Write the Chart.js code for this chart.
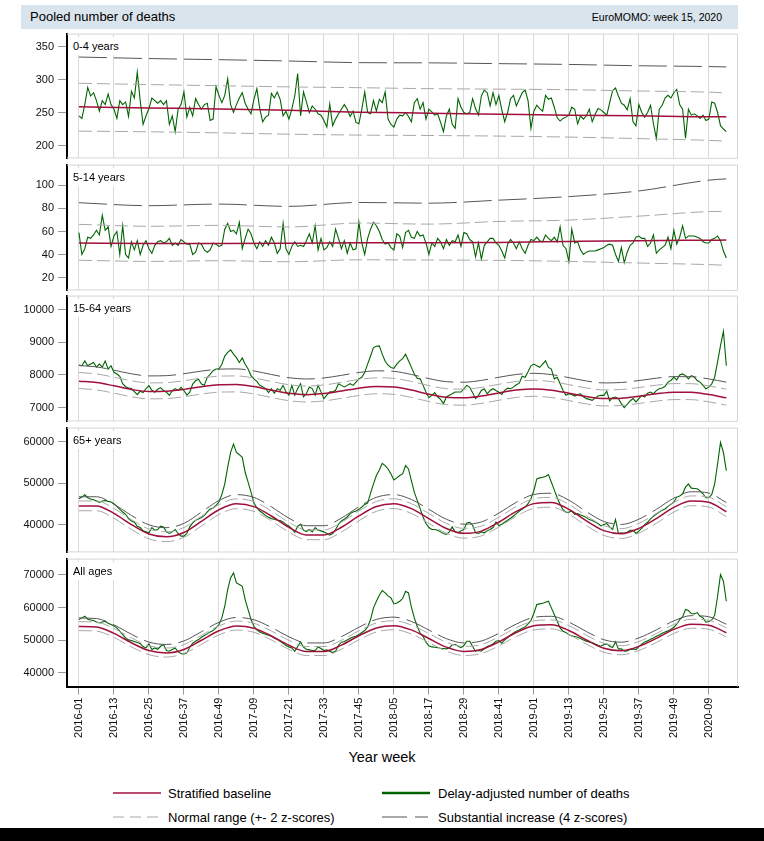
<!DOCTYPE html>
<html>
<head>
<meta charset="utf-8">
<script src="https://cdn.jsdelivr.net/npm/chart.js@4.4.1/dist/chart.umd.min.js"></script>
<style>
  body { margin: 0; background: #fff; width: 764px; height: 841px; position: relative; overflow: hidden;
         font-family: "Liberation Sans", Arial, sans-serif; color: #000; }
  .abs { position: absolute; }
  #titlebar { left: 21px; top: 5px; width: 717px; height: 24px; background: #d9e4ec; }
  #title { left: 30px; top: 9px; font-size: 13px; line-height: 16px; }
  #source { right: 42px; top: 11px; font-size: 10.5px; line-height: 13px; }
  .plabel { font-size: 11px; line-height: 13px; left: 70px; padding: 3px 3px 2px 3px; background: #fff; z-index: 5; }
  #xtitle { left: 0; width: 764px; text-align: center; top: 749px; font-size: 14.5px; }
  .leg { font-size: 13px; line-height: 15px; }
  #blackbar { left: 0; top: 828px; width: 764px; height: 13px; background: #000; }
  canvas { position: absolute; left: 0; }
</style>
</head>
<body>
<div id="titlebar" class="abs"></div>
<div id="title" class="abs">Pooled number of deaths</div>
<div id="source" class="abs">EuroMOMO: week 15, 2020</div>

<div id="xtitle" class="abs">Year week</div>

<svg class="abs" style="left:113px;top:788px" width="48" height="10"><line x1="0" y1="5" x2="48" y2="5" stroke="#a0103c" stroke-width="1.5"/></svg>
<div class="abs leg" style="left:168px;top:786px">Stratified baseline</div>
<svg class="abs" style="left:382px;top:788px" width="48" height="10"><line x1="0" y1="5" x2="48" y2="5" stroke="#006400" stroke-width="2.5"/></svg>
<div class="abs leg" style="left:438px;top:786px">Delay-adjusted number of deaths</div>
<svg class="abs" style="left:113px;top:812px" width="48" height="10"><line x1="0" y1="5" x2="48" y2="5" stroke="#a8a8a8" stroke-width="1" stroke-dasharray="11 6"/></svg>
<div class="abs leg" style="left:168px;top:810px">Normal range (+- 2 z-scores)</div>
<svg class="abs" style="left:382px;top:812px" width="48" height="10"><line x1="0" y1="5" x2="48" y2="5" stroke="#555" stroke-width="1" stroke-dasharray="25 8 13 2"/></svg>
<div class="abs leg" style="left:438px;top:810px">Substantial increase (4 z-scores)</div>

<div id="blackbar" class="abs"></div>

<script>
// x axis: ISO week index from 2016-01 (0) to 2020-15 (222)
const tickWeeks = [0, 12, 24, 36, 48, 60, 72, 84, 96, 108, 120, 132, 144, 156, 168, 180, 192, 204, 216];
const tickLabels = ['2016-01','2016-13','2016-25','2016-37','2016-49','2017-09','2017-21','2017-33','2017-45',
  '2018-05','2018-17','2018-29','2018-41','2019-01','2019-13','2019-25','2019-37','2019-49','2020-09'];

// weeks at which the smooth reference lines are read
const slowWeeks = [0, 24, 48, 72, 96, 120, 144, 168, 192, 216, 222];
const knotWeeks = [0,6,12,18,24,30,36,42,48,54,60,66,72,78,84,90,96,102,108,114,120,126,132,138,144,150,156,162,168,174,180,186,192,198,204,210,216,222];

// ---- 0-4 years
const deaths04 = [
  245,241,262,288,275,280,268,252,268,262, 278,262,255,241,268,262,266,244,282,272,
  311,268,232,245,256,272,268,264,268,262, 268,232,245,221,255,262,281,243,258,245,
  271,262,255,262,264,238,240,289,276,265, 276,301,262,250,262,272,280,264,255,248,
  270,286,256,236,243,246,279,272,281,270, 245,252,240,255,275,309,245,281,266,250,
  260,255,248,246,238,228,263,230,240,248, 255,262,255,244,252,235,233,255,281,250,
  248,268,252,270, 265,281,240,232,228,240,
  246,245,250,244,236,265,271,255,265,240, 255,251,246,248,235,221,245,255,232,226,
  271,258,250,248,250,271,256,246,275,284, 280,260,280,262,276,254,236,250,271,276,
  260,270,280,284,268,226,252,261,256,252, 276,270,272,258,242,237,241,243,246,258,
  255,233,245,240,245,255,236,247,256,254, 250,246,265,283,287,275,264,261,254,271,
  236,230,262,250,243,250,261,233,211,255, 261,272,276,272,280,285,262,255,211,255,
  246,248,245,241,246,238,240,266,264,250, 230,225,221];
const base04    = [258.6, 257, 255.5, 253.5, 250.5, 249, 247.5, 246, 245, 243.5, 243.5];
const upper2z04 = [294.3, 292.3, 290.6, 288.8, 287.6, 286.1, 285.4, 284.5, 282.6, 280.8, 279.7];
const lower2z04 = [221.8, 220.8, 219.2, 217.2, 215.8, 215.2, 214.3, 212.8, 210.5, 207.8, 206.7];
const upper4z04 = [334, 331.7, 330, 328, 325.5, 325.2, 324, 322.8, 320.8, 319.6, 319];
const yTicks04 = [200, 250, 300, 350];

// ---- 5-14 years
const deaths514 = [
  59,40,45,55,54,57,61,57,74,61, 64,47,56,60,40,65,40,37,51,44,
  52,40,48,52,45,41,48,51,52,50, 51,54,48,50,48,53,51,49,49,40,
  42,50,49,44,42,44,50,49,47,48, 62,67,60,61,58,68,45,54,62,58,
  50,45,51,47,52,48,55,50,41,45, 67,45,40,47,51,47,48,47,52,58,
  50,65,44,54,44,46,51,47,62,54, 45,52,41,50,44,45,68,50,40,54,
  62,68,65,60, 53,49,50,46,44,58,
  56,46,59,61,55,54,60,56,57,50, 40,50,47,54,51,45,53,48,52,51,
  57,47,59,58,53,51,38,50,36,48, 51,54,54,50,48,43,37,49,53,50,
  45,51,45,41,48,53,52,55,52,51, 57,54,52,55,51,64,48,45,34,62,
  50,51,44,40,42,43,43,43,44,45, 46,48,49,48,40,34,46,33,42,48,
  50,55,56,54,54,47,50,57,41,44, 46,48,55,45,61,49,55,65,54,56,
  56,56,55,54,51,50,50,53,54,56, 52,43,37];
const base514    = [50, 49.5, 49.5, 49.7, 50.3, 50.3, 50.5, 51.3, 52, 52.4, 52.5];
const upper2z514 = [66.2, 64.5, 65.3, 63.9, 67.3, 66.4, 68.7, 69.9, 73.3, 77.3, 77.5];
const lower2z514 = [35, 34, 34.6, 33.7, 35.4, 35.2, 34.9, 34, 32.6, 31.2, 30.6];
const upper4z514 = [85, 82.4, 83.8, 81.8, 85.2, 84.6, 87.2, 90.3, 95.2, 104.6, 105.7];
const yTicks514 = [20, 40, 60, 80, 100];

// ---- 15-64 years
const deaths1564 = [
  8303,8283,8430,8280,8333,8384,8240,8333,8240,8430, 8180,8283,8080,8030,7960,7730,7640,7600,7580,7490,
  7394,7500,7460,7580,7670,7530,7470,7560,7610,7520, 7470,7374,7520,7580,7520,7620,7520,7380,7470,7720,
  7820,7870,7720,7680,7930,8020,8130,8180,8180,8330, 8580,8690,8770,8640,8530,8380,8520,8330,8180,7980,
  7880,7800,7680,7640,7580,7460,7580,7440,7580,7530, 7680,7480,7380,7680,7380,7580,7730,7330,7430,7630,
  7580,7380,7680,7480,7273,7380,7480,7480,7530,7730, 7680,7630,7680,7730,7680,7780,7880,7930,8080,8330,
  8580,8840,8880,8890, 8640,8420,8300,8230,8200,8330,
  8434,8500,8636,8434,8232,8030,7900,7880,7680,7475, 7300,7374,7455,7330,7250,7121,7323,7374,7420,7475,
  7475,7475,7576,7680,7620,7450,7273,7374,7525,7576, 7420,7525,7576,7520,7470,7400,7525,7596,7576,7626,
  7700,7747,7960,7930,8100,8280,8333,8283,8233,8333, 8434,8232,8180,7880,7930,7727,7525,7374,7420,7400,
  7353,7400,7420,7330,7273,7250,7220,7290,7353,7374, 7374,7500,7200,7300,7323,7273,7121,7000,7100,7200,
  7273,7171,7273,7374,7323,7440,7475,7424,7520,7576, 7600,7650,7780,7830,7930,7850,8000,8030,7980,7880,
  7980,7940,7830,7780,7677,7576,7626,7727,7930,8400, 8900,9340,8280];
const base1564 = [7808,7767,7666,7555,7490,7498,7557,7638,7697,7705,7642,7533,7435,7395,7427,7507,7595,7646,7630,
  7535,7408,7313,7297,7353,7448,7535,7570,7532,7438,7335,7275,7288,7348,7420,7469,7466,7398,7298];
const upper2z1564 = [8073,8032,7931,7820,7755,7763,7822,7903,7962,7970,7907,7798,7700,7660,7692,7772,7860,7911,7895,
  7800,7673,7578,7562,7618,7713,7800,7835,7797,7703,7600,7540,7553,7613,7685,7734,7731,7663,7563];
const lower2z1564 = [7583,7542,7441,7330,7265,7273,7332,7413,7472,7480,7417,7308,7210,7170,7202,7282,7370,7421,7405,
  7310,7183,7088,7072,7128,7223,7310,7345,7307,7213,7110,7050,7063,7123,7195,7244,7241,7173,7073];
const upper4z1564 = [8288,8247,8146,8035,7970,7978,8037,8118,8177,8185,8122,8013,7915,7875,7907,7987,8075,8126,8110,
  8015,7888,7793,7777,7833,7928,8015,8050,8012,7918,7815,7755,7768,7828,7900,7949,7946,7878,7778];
const yTicks1564 = [7000, 8000, 9000, 10000];

// ---- 65+ years
const deaths65 = [
  46270,46670,47220,46510,46190,46030,45710,45400,45710,45870, 45640,45480,45080,44440,43730,43100,42540,41510,40950,40630,
  39680,39370,38570,38330,38100,39370,38730,38890,39680,39520, 38330,37940,38330,38890,37940,37300,37300,37940,39520,40480,
  41110,41430,41750,42300,43100,43810,44050,44680,45480,47300, 49840,53810,57380,59370,57380,56830,56190,52620,50240,47860,
  45240,44130,43330,42860,42220,41830,41510,41350,41110,41030, 40710,40080,39760,39130,38170,39680,40160,38730,38410,38890,
  38330,39370,38730,38570,38330,37940,37540,37940,38890,40160, 40950,41350,41900,42700,43100,43330,43730,44290,44920,45240,
  47620,49840,51830,53180, 54760,54210,53410,52220,50790,51270,
  51830,52220,54210,53410,50640,47860,45870,43890,41900,40320, 39370,38890,38890,38730,38330,37940,37700,38330,39520,38330,
  38100,38570,38890,40480,40630,39920,38100,37940,38330,38100, 38570,38890,39370,40710,39840,40160,40630,41110,41590,42140,
  42700,43330,43810,44290,45080,46270,48250,51030,51270,51430, 51590,52060,50240,48410,46510,44920,43650,43020,43020,43330,
  42540,42700,42380,42140,41750,41270,41030,40710,40320,39760, 40080,40320,39520,38890,41300,37940,38100,37940,38250,38730,
  38730,37940,38490,39210,40080,40630,41430,42060,42620,43100, 43490,43810,44440,44920,45480,46670,46900,47460,49050,49840,
  48810,48730,48650,48170,47460,46510,46510,47300,49840,54600, 59760,57380,53020];
const base65 = [44540,44550,42750,40060,37820,37140,38170,40870,43640,45050,44390,42130,39420,37600,37600,39430,42150,44410,
  45070,43890,41520,39150,37970,38510,40640,43230,45100,45390,43720,40980,38620,37900,39170,41530,44210,45750,45440,43150];
const upper2z65 = [45740,45750,43950,41260,39020,38340,39370,42070,44840,46250,45590,43330,40620,38800,38800,40630,43350,45610,
  46270,45090,42720,40350,39170,39710,41840,44430,46300,46590,44920,42180,39820,39100,40370,42730,45410,46950,46640,44350];
const lower2z65 = [43390,43400,41600,38910,36670,35990,37020,39720,42490,43900,43240,40980,38270,36450,36450,38280,41000,43260,
  43920,42740,40370,38000,36820,37360,39490,42080,43950,44240,42570,39830,37470,36750,38020,40380,43060,44600,44290,42000];
const upper4z65 = [46740,46750,44950,42260,40020,39340,40370,43070,45840,47250,46590,44330,41620,39800,39800,41630,44350,46610,
  47270,46090,43720,41350,40170,40710,42840,45430,47300,47590,45920,43180,40820,40100,41370,43730,46410,47950,47640,45350];
const yTicks65 = [40000, 50000, 60000];

// ---- All ages
const deathsAll = [
  56330,56840,57350,56430,56220,56020,55610,55310,55610,55820, 55200,54800,54390,53780,52760,51730,50710,50100,49900,49590,
  49290,48980,48060,47650,48880,47140,47650,47240,48160,48670, 46840,46630,47140,47650,46430,45920,45820,46120,47860,49080,
  49690,50200,50920,51430,51940,52550,52960,53780,54800,56840, 60410,65510,69080,70610,67550,67040,66530,62450,59390,56330,
  54290,53160,52550,52140,51840,51530,51220,50710,50200,49690, 49080,48370,47960,47650,46630,48060,49490,47860,47240,47040,
  46840,46840,47960,47450,46840,47040,46630,46220,46630,48470, 49390,49590,50100,50610,51020,51220,51730,52350,52960,54080,
  56330,59900,61940,63780, 65200,64490,63570,62960,61120,61430,
  61940,62760,65000,64490,60100,56840,54290,52140,51220,49390, 48270,47960,47860,47750,47550,47450,47350,47650,48570,48780,
  48160,47750,48370,49690,49690,48060,46630,46840,46630,47450, 48060,48370,48880,49690,49900,49080,50100,50820,51530,52240,
  52760,53160,53670,54080,55000,56020,58270,60920,61120,61330, 61630,61940,59900,57860,55820,53780,52760,52350,51730,51330,
  51120,50920,50510,50100,49690,49490,49290,48880,48470,48160, 48670,48880,48160,47750,49490,47350,47350,46630,46730,47240,
  47350,47140,48060,48780,49490,49800,50310,50710,51220,51630, 52140,52550,52860,53370,53980,54900,56330,57140,59390,59080,
  58160,58060,58470,57350,56840,55510,55710,56220,57650,63470, 70100,68060,61940];
const baseAll = [54200,54030,52100,49220,46830,46100,47180,50000,52890,54370,53680,51310,48470,46570,46570,48500,51380,53770,
  54470,53160,50530,47890,46580,47170,49510,52360,54410,54730,52970,50060,47560,46800,48110,50560,53330,54930,54590,52300];
const upper2zAll = [55700,55530,53600,50720,48330,47600,48680,51500,54390,55870,55180,52810,49970,48070,48070,50000,52880,55270,
  55970,54660,52030,49390,48080,48670,51010,53860,55910,56230,54470,51560,49060,48300,49610,52060,54830,56430,56090,53800];
const lower2zAll = [52950,52780,50850,47970,45580,44850,45930,48750,51640,53120,52430,50060,47220,45320,45320,47250,50130,52520,
  53220,51910,49280,46640,45330,45920,48260,51110,53160,53480,51720,48810,46310,45550,46860,49310,52080,53680,53340,51050];
const upper4zAll = [56800,56630,54700,51820,49430,48700,49780,52600,55490,56970,56280,53910,51070,49170,49170,51100,53980,56370,
  57070,55760,53130,50490,49180,49770,52110,54960,57010,57330,55570,52660,50160,49400,50710,53160,55930,57530,57190,54900];
const yTicksAll = [40000, 50000, 60000, 70000];

const weekIndex = deaths04.map((_, i) => i);

const panels = [
  { label: '0-4 years',   top: 34,  bottom: 160, yMin: 180.5, yMax: 369.5, yTicks: yTicks04,   knots: slowWeeks, deaths: deaths04,   base: base04,   up2: upper2z04,   lo2: lower2z04,   up4: upper4z04 },
  { label: '5-14 years',  top: 165, bottom: 292, yMin: 8.8,   yMax: 118.1, yTicks: yTicks514,  knots: slowWeeks, deaths: deaths514,  base: base514,  up2: upper2z514,  lo2: lower2z514,  up4: upper4z514 },
  { label: '15-64 years', top: 296, bottom: 423, yMin: 6574,  yMax: 10435, yTicks: yTicks1564, knots: knotWeeks, deaths: deaths1564, base: base1564, up2: upper2z1564, lo2: lower2z1564, up4: upper4z1564 },
  { label: '65+ years',   top: 428, bottom: 554, yMin: 33405, yMax: 63333, yTicks: yTicks65,   knots: knotWeeks, deaths: deaths65,   base: base65,   up2: upper2z65,   lo2: lower2z65,   up4: upper4z65 },
  { label: 'All ages',    top: 559, bottom: 687, yMin: 35807, yMax: 74990, yTicks: yTicksAll,  knots: knotWeeks, deaths: deathsAll,  base: baseAll,  up2: upper2zAll,  lo2: lower2zAll,  up4: upper4zAll, last: true }
];

const AREA_LEFT = 67, AREA_RIGHT = 738;

Chart.defaults.font.family = '"Liberation Sans", Arial, sans-serif';
Chart.defaults.color = '#111';

const framePlugin = {
  id: 'frame',
  beforeDatasetsDraw(chart, args, opts) {
    const {ctx, chartArea: a} = chart;
    ctx.save();
    ctx.strokeStyle = '#d6d6d6';
    ctx.lineWidth = 1;
    ctx.beginPath();
    ctx.moveTo(a.left, a.top + 0.5);
    ctx.lineTo(a.right - 0.5, a.top + 0.5);
    ctx.lineTo(a.right - 0.5, a.bottom);
    if (!opts.last) ctx.lineTo(a.left, a.bottom - 0.5);
    ctx.stroke();
    ctx.restore();
  }
};

const pts = (xs, ys) => ys.map((y, i) => ({x: xs[i], y: y}));

panels.forEach(p => {
  const padTop = 10;
  const axisH = p.last ? 58 : 0;
  const areaH = p.bottom - p.top;
  let yWidth = AREA_LEFT;
  const pad = { top: padTop, bottom: p.last ? 0 : 10, left: 0, right: 764 - AREA_RIGHT };

  const canvas = document.createElement('canvas');
  canvas.width = 764;
  canvas.height = areaH + pad.top + pad.bottom + axisH;
  canvas.style.top = (p.top - padTop) + 'px';
  document.body.appendChild(canvas);

  const refLine = (vals, color, dash, width) => ({
    data: pts(p.knots, vals),
    borderColor: color,
    borderWidth: width,
    borderDash: dash,
    pointRadius: 0,
    fill: false,
    cubicInterpolationMode: 'monotone'
  });

  const chart = new Chart(canvas, {
    type: 'line',
    data: {
      datasets: [
        refLine(p.up4, '#555555', [28, 7], 1),
        refLine(p.up2, '#a8a8a8', [13, 5], 1),
        refLine(p.lo2, '#a8a8a8', [13, 5], 1),
        refLine(p.base, '#a0103c', [], 1.5),
        {
          data: pts(weekIndex, p.deaths),
          borderColor: '#006400',
          borderWidth: 1.1,
          pointRadius: 0,
          fill: false,
          tension: 0
        }
      ]
    },
    options: {
      responsive: false,
      animation: false,
      layout: { padding: Object.assign({}, pad) },
      plugins: {
        legend: { display: false },
        tooltip: { enabled: false },
        frame: { last: !!p.last }
      },
      scales: {
        x: {
          type: 'linear',
          min: -4.1,
          max: 226,
          afterBuildTicks: s => { s.ticks = tickWeeks.map(v => ({value: v})); },
          afterFit: s => { s.height = axisH; },
          ticks: {
            display: !!p.last,
            autoSkip: false,
            minRotation: 90,
            maxRotation: 90,
            padding: 3,
            color: '#111',
            font: { size: 11 },
            callback: (v, i) => tickLabels[i]
          },
          grid: { color: '#d9d9d9', drawTicks: !!p.last, tickLength: 8, tickColor: '#999' },
          border: { display: !!p.last, color: '#000', width: 2 }
        },
        y: {
          min: p.yMin,
          max: p.yMax,
          afterBuildTicks: s => { s.ticks = p.yTicks.map(v => ({value: v})); },
          afterFit: s => { s.width = yWidth; },
          ticks: { padding: 4, color: '#111', font: { size: 11 }, callback: v => String(v) },
          grid: { drawOnChartArea: false, drawTicks: true, tickLength: 9, tickColor: '#999' },
          border: { color: '#000', width: 2 }
        }
      }
    },
    plugins: [framePlugin]
  });

  // pin the plot area to the reference position
  for (let k = 0; k < 3; k++) {
    const a = chart.chartArea;
    yWidth -= a.left - AREA_LEFT;
    pad.right += a.right - AREA_RIGHT;
    pad.bottom += (a.bottom - a.top) - areaH;
    chart.options.layout.padding = Object.assign({}, pad);
    chart.update();
  }
  canvas.style.top = (p.top - chart.chartArea.top) + 'px';

  // panel caption in the top-left corner, masking the gridline behind it
  const lab = document.createElement('div');
  lab.className = 'abs plabel';
  lab.style.top = (p.top + 3) + 'px';
  lab.textContent = p.label;
  document.body.appendChild(lab);
});
</script>
</body>
</html>
